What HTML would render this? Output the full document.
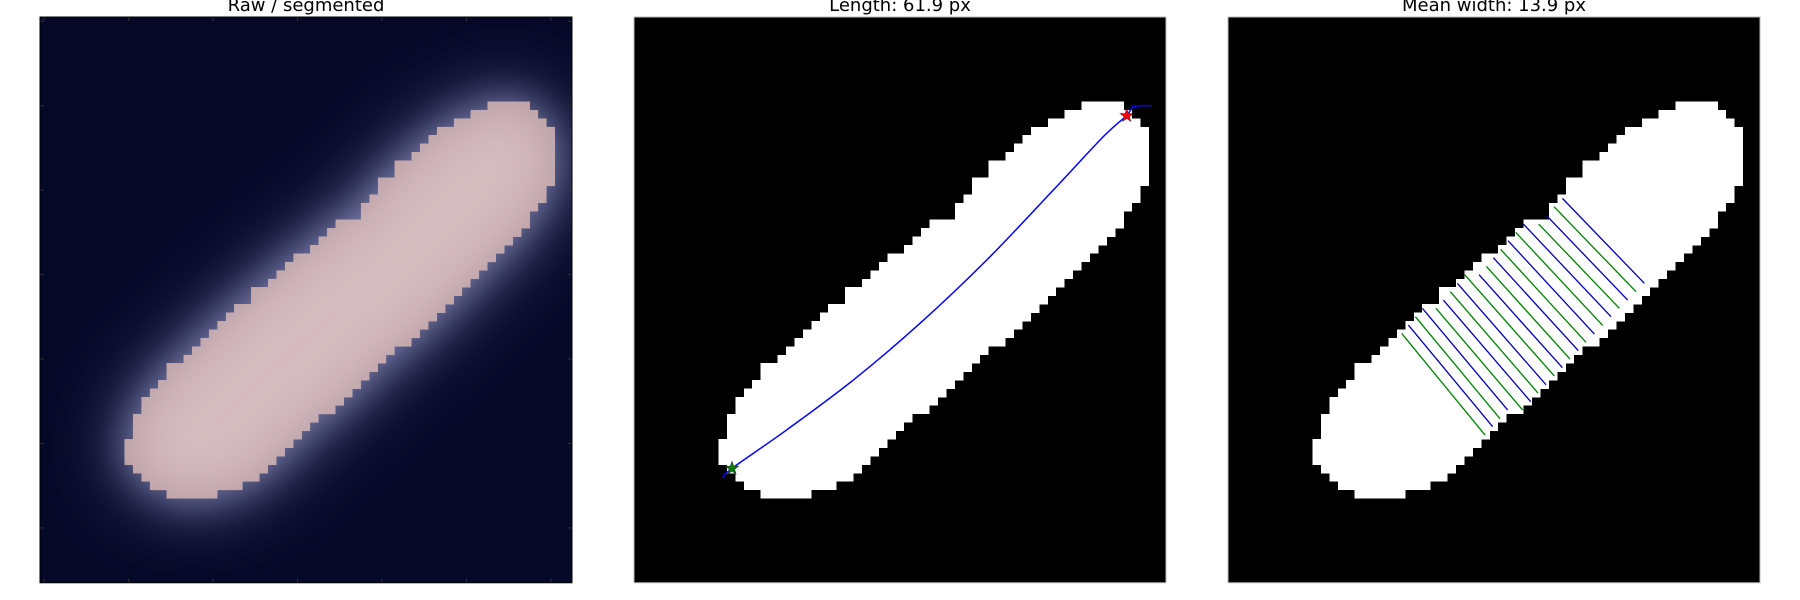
<!DOCTYPE html>
<html><head><meta charset="utf-8"><style>
html,body{margin:0;padding:0;background:#fff;width:1800px;height:600px;overflow:hidden}
svg{display:block}
text{font-family:"DejaVu Sans","Liberation Sans",sans-serif}
</style></head><body>
<svg id="fig" width="1800" height="600" viewBox="0 0 1800 600">
<defs>
<filter id="glow" x="-50%" y="-50%" width="200%" height="200%"><feGaussianBlur stdDeviation="38"/></filter>
<filter id="glow2" x="-50%" y="-50%" width="200%" height="200%"><feGaussianBlur stdDeviation="18"/></filter>
<filter id="inner" x="-50%" y="-50%" width="200%" height="200%"><feGaussianBlur stdDeviation="25"/></filter>
</defs>
</svg>
<script>
// mask rows (image rows 10..56): start/end columns (pixel-edge units)
const maskRowStart=10;
const maskLeft=[53,51,49,47,46,45,44,42,42,40,40,39,38,38,35,34,33,32,30,29,28,27,25,25,23,22,21,20,19,18,17,15,15,14,13,12,12,11,11,11,10,10,10,11,12,13,15];
const maskRight=[58,59,60,61,61,61,61,61,61,61,60,60,59,58,58,57,56,55,54,53,52,51,50,49,48,47,46,45,44,42,41,40,39,38,37,36,35,33,32,31,30,29,28,27,26,24,21];
// centerline (image units)
const lineX=[10.5,11.6,18.08,25.97,33.87,41.77,49.66,55.58,58.35,59.1,59.9,61.3];
const lineY=[54.6,53.45,48.9,42.99,36.28,28.78,20.49,14.17,11.69,10.6,10.5,10.5];
const startPt=[11.6,53.45], endPt=[58.35,11.69];
// width measurement segments
const wX1=[39.60,38.61,37.74,36.79,34.98,34.07,33.16,32.29,31.42,30.59,29.73,28.03,27.16,26.33,25.50,24.63,23.02,22.19,21.36,20.57];
const wY1=[21.48,22.46,23.53,24.52,24.52,25.50,26.49,27.52,28.50,29.53,30.52,30.52,31.54,32.53,33.52,34.50,34.50,35.49,36.48,37.47];
const wX2=[49.31,48.32,47.33,46.35,45.36,44.37,43.39,42.40,41.49,40.50,39.60,38.65,37.66,36.71,35.85,34.90,33.12,32.21,31.34,30.44];
const wY2=[31.54,32.53,33.52,34.50,35.49,36.52,37.54,38.53,39.52,40.51,41.53,42.52,43.55,44.53,45.56,46.55,46.55,47.57,48.52,49.51];
const titles=["Raw / segmented","Length: 61.9 px","Mean width: 13.9 px"];
const tickVals=[0,10,20,30,40,50,60];
const imgW=63,imgH=67;

const NS="http://www.w3.org/2000/svg";
const fig=document.getElementById('fig');
const panelX=[40,634,1228],panelY=17,panelW=532,U=panelW/imgW,panelH=imgH*U;
function mk(tag,attrs,parent){const e=document.createElementNS(NS,tag);for(const k in attrs)e.setAttribute(k,attrs[k]);(parent||fig).appendChild(e);return e;}
function maskPath(px){let d="";for(let i=0;i<maskLeft.length;i++){const r=maskRowStart+i;const x0=px+maskLeft[i]*U,x1=px+maskRight[i]*U,y0=panelY+r*U,y1=panelY+(r+1)*U+0.3;d+=`M${x0},${y0}H${x1}V${y1}H${x0}Z`;}return d;}
function sx(p,v){return panelX[p]+v*U;} function sy(v){return panelY+v*U;}

for(let p=0;p<3;p++){
  const g=mk('g',{});
  
  
  const cp=mk('clipPath',{id:'cp'+p},g);mk('rect',{x:panelX[p],y:panelY,width:panelW,height:panelH},cp);
  const inner=mk('g',{'clip-path':'url(#cp'+p+')'},g);
  const bg=mk('rect',{x:panelX[p],y:panelY,width:panelW,height:panelH,fill:p==0?'#060828':'#000'},inner);
  
  
  const d=maskPath(panelX[p]);
  if(p==0){
    mk('path',{d:d,fill:'#8186b6',filter:'url(#glow)',opacity:'1'},inner);
    mk('path',{d:d,fill:'#8a8ebb',filter:'url(#glow2)',opacity:'0.6'},inner);
    const ov=mk('path',{d:d,fill:'#b3979d','shape-rendering':'crispEdges'},inner);
    
    
    const cpm=mk('clipPath',{id:'cpm'},g);mk('path',{d:d},cpm);
    const ig=mk('g',{'clip-path':'url(#cpm)'},inner);
    mk('path',{d:d,fill:'#dcc4c7',filter:'url(#inner)',opacity:'0.8'},ig);
  } else {
    const m=mk('path',{d:d,fill:'#fff','shape-rendering':'crispEdges'},inner);
    
    
  }
  if(p==1){
    const pts=lineX.map((x,i)=>[sx(1,x),sy(lineY[i])]);
    let dd=`M${pts[0][0]},${pts[0][1]}`;
    const n=pts.length;
    for(let i=0;i<n-1;i++){
      if(i>=8){dd+=`L${pts[i+1][0]},${pts[i+1][1]}`;continue;}
      const p0=pts[Math.max(0,i-1)],p1=pts[i],p2=pts[i+1],p3=pts[Math.min(8,i+2)];
      dd+=`C${p1[0]+(p2[0]-p0[0])/6},${p1[1]+(p2[1]-p0[1])/6} ${p2[0]-(p3[0]-p1[0])/6},${p2[1]-(p3[1]-p1[1])/6} ${p2[0]},${p2[1]}`;}
    const cl=mk('path',{d:dd,fill:'none',stroke:'#0000ff','stroke-width':1.5,'stroke-linejoin':'round'},inner);
    
    
    function star(cx,cy,r,fill,name){let s="";for(let k=0;k<10;k++){const a=-Math.PI/2+k*Math.PI/5,rr=k%2?r*0.4:r;s+=(k?'L':'M')+(cx+rr*Math.cos(a))+','+(cy+rr*Math.sin(a));}
      const e=mk('path',{d:s+'Z',fill:fill,stroke:'#333','stroke-width':0.6},inner);
      
      }
    star(sx(1,startPt[0]),sy(startPt[1]),7,'#008000','start-marker');
    star(sx(1,endPt[0]),sy(endPt[1]),7,'#ff0000','end-marker');
  }
  if(p==2){
    for(let i=0;i<wX1.length;i++){
      const l=mk('line',{x1:sx(2,wX1[i]),y1:sy(wY1[i]),x2:sx(2,wX2[i]),y2:sy(wY2[i]),stroke:i%2?'#008000':'#0000b0','stroke-width':1.3},inner);
      
      
    }
  }
  if(p==0){
    for(const v of tickVals){
      const x=sx(0,v+0.5),y=sy(v+0.5);
      mk('line',{x1:x,y1:panelY,x2:x,y2:panelY+4,stroke:'#333'},g);
      mk('line',{x1:x,y1:panelY+panelH,x2:x,y2:panelY+panelH-4,stroke:'#333'},g);
      if(v+0.5<imgH){mk('line',{x1:panelX[0],y1:y,x2:panelX[0]+4,y2:y,stroke:'#333'},g);
      mk('line',{x1:panelX[0]+panelW,y1:y,x2:panelX[0]+panelW-4,y2:y,stroke:'#333'},g);}
    }
  }
  const fr=mk('rect',{x:panelX[p],y:panelY,width:panelW,height:panelH,fill:'none',stroke:p==0?'#000':'#bbb','stroke-width':1},g);
  
  
  const t=mk('text',{x:panelX[p]+panelW/2,y:11,'text-anchor':'middle','font-size':18,fill:'#000'},g);
  t.textContent=titles[p];
  
  
}
</script>
</body></html>
